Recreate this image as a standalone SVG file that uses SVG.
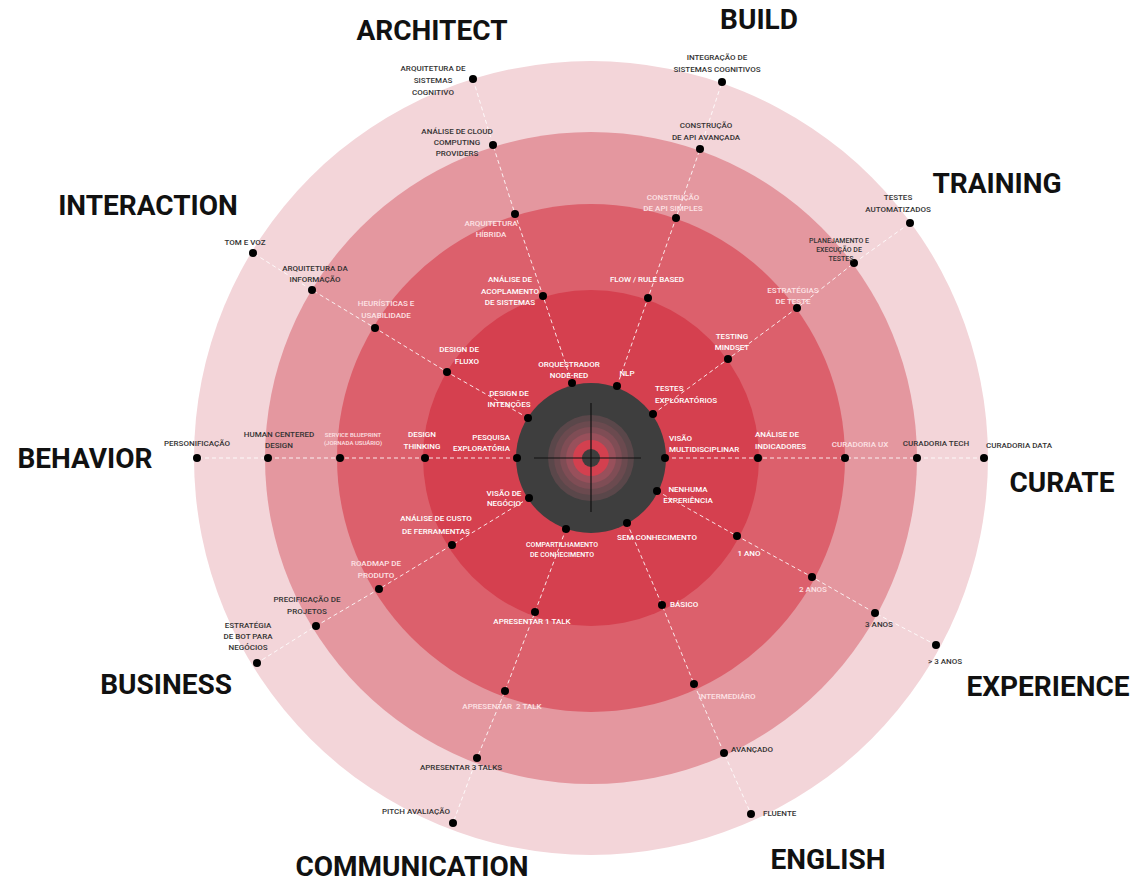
<svg xmlns="http://www.w3.org/2000/svg" width="1134" height="882" viewBox="0 0 1134 882">
<style>
text{font-family:Roboto,"Liberation Sans",sans-serif}
.h{font-size:28px;font-weight:700;fill:#111;text-anchor:middle}
.l{font-size:8px;font-weight:500;text-anchor:middle}
.st{text-anchor:start}
.en{text-anchor:end}
.d{fill:#333}
.w{fill:#fff}
.p{fill:#fde2e5}
.s7{font-size:7px}
.s6{font-size:6px}
.dot{fill:#000}
.sp{stroke:#fff;stroke-width:1;stroke-dasharray:4 3;fill:none;opacity:.85}
</style>
<rect width="1134" height="882" fill="#fff"/>
<g id="rings">
<circle cx="591" cy="458" r="397" fill="#f3d5d9"/>
<circle cx="591" cy="458" r="326" fill="#e4979f"/>
<circle cx="591" cy="458" r="254" fill="#dc606c"/>
<circle cx="591" cy="458" r="168" fill="#d5404f"/>
</g>
<g id="connectors">
<polyline class="sp" points="572,383 543,296 515,214 493,145 473,79"/>
<polyline class="sp" points="617,386 648,298 676,218 700,149 722,82"/>
<polyline class="sp" points="653,414 728,359 797,308 854,263 910,223"/>
<polyline class="sp" points="665,458 758,458 845,458 917,458 984,458"/>
<polyline class="sp" points="657,491 737,536 812,577 875,613 936,645"/>
<polyline class="sp" points="627,523 662,605 694,684 724,753 751,814"/>
<polyline class="sp" points="566,529 535,612 505,691 477,758 453,823"/>
<polyline class="sp" points="529,498 452,545 379,589 316,626 257,663"/>
<polyline class="sp" points="517,458 425,458 340,458 268,458 197,458"/>
<polyline class="sp" points="528,418 447,372 375,328 312,290 253,253"/>
</g>
<g id="core">
<circle cx="591" cy="458" r="75" fill="#3e3e3e"/>
<circle cx="591" cy="458" r="43" fill="#5a474a"/>
<circle cx="591" cy="458" r="37" fill="#6b4a4f"/>
<circle cx="591" cy="458" r="31" fill="#7f4d55"/>
<circle cx="591" cy="458" r="25" fill="#98505b"/>
<circle cx="591" cy="458" r="18" fill="#d3404f"/>
<circle cx="591" cy="458" r="9" fill="#3e3e3e"/>
<line x1="534" y1="458" x2="641" y2="458" stroke="#111" stroke-width="1.2"/>
<line x1="591" y1="403" x2="591" y2="512" stroke="#111" stroke-width="1.2"/>
</g>
<g id="headers">
<text id="h-architect" class="h" x="432" y="40">ARCHITECT</text>
<text id="h-build" class="h" x="759" y="29">BUILD</text>
<text id="h-training" class="h" x="997" y="193">TRAINING</text>
<text id="h-interaction" class="h" x="148" y="215">INTERACTION</text>
<text id="h-behavior" class="h" x="85" y="468">BEHAVIOR</text>
<text id="h-curate" class="h" x="1062" y="492">CURATE</text>
<text id="h-business" class="h" x="166" y="694">BUSINESS</text>
<text id="h-experience" class="h" x="1048" y="696">EXPERIENCE</text>
<text id="h-communication" class="h" x="412" y="876">COMMUNICATION</text>
<text id="h-english" class="h" x="828" y="869">ENGLISH</text>
</g>
<!-- ARCHITECT -->
<g id="architect-1"><circle class="dot" cx="572" cy="383" r="4"/><text class="l w" x="569" y="367">ORQUESTRADOR</text><text class="l w" x="569" y="378">NODE-RED</text></g>
<g id="architect-2"><circle class="dot" cx="543" cy="296" r="4"/><text class="l w" x="510" y="282">ANÁLISE DE</text><text class="l w" x="510" y="294">ACOPLAMENTO</text><text class="l w" x="510" y="305">DE SISTEMAS</text></g>
<g id="architect-3"><circle class="dot" cx="515" cy="214" r="4"/><text class="l p" x="491" y="226">ARQUITETURA</text><text class="l p" x="491" y="237">HÍBRIDA</text></g>
<g id="architect-4"><circle class="dot" cx="493" cy="145" r="4"/><text class="l d" x="457" y="134">ANÁLISE DE CLOUD</text><text class="l d" x="457" y="145">COMPUTING</text><text class="l d" x="457" y="156">PROVIDERS</text></g>
<g id="architect-5"><circle class="dot" cx="473" cy="79" r="4"/><text class="l d" x="433" y="71">ARQUITETURA DE</text><text class="l d" x="433" y="83">SISTEMAS</text><text class="l d" x="433" y="95">COGNITIVO</text></g>
<!-- BUILD -->
<g id="build-1"><circle class="dot" cx="617" cy="386" r="4"/><text class="l w" x="627" y="376">NLP</text></g>
<g id="build-2"><circle class="dot" cx="648" cy="298" r="4"/><text class="l w" x="647" y="282">FLOW / RULE BASED</text></g>
<g id="build-3"><circle class="dot" cx="676" cy="218" r="4"/><text class="l p" x="673" y="200">CONSTRUÇÃO</text><text class="l p" x="673" y="211">DE API SIMPLES</text></g>
<g id="build-4"><circle class="dot" cx="700" cy="149" r="4"/><text class="l d" x="706" y="128">CONSTRUÇÃO</text><text class="l d" x="706" y="140">DE API AVANÇADA</text></g>
<g id="build-5"><circle class="dot" cx="722" cy="82" r="4"/><text class="l d" x="717" y="60">INTEGRAÇÃO DE</text><text class="l d" x="717" y="72">SISTEMAS COGNITIVOS</text></g>
<!-- TRAINING -->
<g id="training-1"><circle class="dot" cx="653" cy="414" r="4"/><text class="l w st" x="655" y="391">TESTES</text><text class="l w st" x="655" y="403">EXPLORATÓRIOS</text></g>
<g id="training-2"><circle class="dot" cx="728" cy="359" r="4"/><text class="l w" x="732" y="339">TESTING</text><text class="l w" x="732" y="350">MINDSET</text></g>
<g id="training-3"><circle class="dot" cx="797" cy="308" r="4"/><text class="l p" x="793" y="293">ESTRATÉGIAS</text><text class="l p" x="793" y="304">DE TESTE</text></g>
<g id="training-4"><circle class="dot" cx="854" cy="263" r="4"/><text class="l d s7" x="839" y="243">PLANEJAMENTO E</text><text class="l d s7" x="839" y="252">EXECUÇÃO DE</text><text class="l d s7" x="841" y="261">TESTES</text></g>
<g id="training-5"><circle class="dot" cx="910" cy="223" r="4"/><text class="l d" x="898" y="200">TESTES</text><text class="l d" x="898" y="212">AUTOMATIZADOS</text></g>
<!-- CURATE -->
<g id="curate-1"><circle class="dot" cx="665" cy="458" r="4"/><text class="l w st" x="669" y="441">VISÃO</text><text class="l w st" x="669" y="452">MULTIDISCIPLINAR</text></g>
<g id="curate-2"><circle class="dot" cx="758" cy="458" r="4"/><text class="l w st" x="755" y="437">ANÁLISE DE</text><text class="l w st" x="755" y="449">INDICADORES</text></g>
<g id="curate-3"><circle class="dot" cx="845" cy="458" r="4"/><text class="l p" x="860" y="447">CURADORIA UX</text></g>
<g id="curate-4"><circle class="dot" cx="917" cy="458" r="4"/><text class="l d" x="936" y="446">CURADORIA TECH</text></g>
<g id="curate-5"><circle class="dot" cx="984" cy="458" r="4"/><text class="l d" x="1019" y="448">CURADORIA DATA</text></g>
<!-- EXPERIENCE -->
<g id="experience-1"><circle class="dot" cx="657" cy="491" r="4"/><text class="l w" x="688" y="492">NENHUMA</text><text class="l w" x="688" y="503">EXPERIÊNCIA</text></g>
<g id="experience-2"><circle class="dot" cx="737" cy="536" r="4"/><text class="l w" x="749" y="556">1 ANO</text></g>
<g id="experience-3"><circle class="dot" cx="812" cy="577" r="4"/><text class="l p" x="813" y="592">2 ANOS</text></g>
<g id="experience-4"><circle class="dot" cx="875" cy="613" r="4"/><text class="l d" x="879" y="627">3 ANOS</text></g>
<g id="experience-5"><circle class="dot" cx="936" cy="645" r="4"/><text class="l d" x="945" y="664">&gt; 3 ANOS</text></g>
<!-- ENGLISH -->
<g id="english-1"><circle class="dot" cx="627" cy="523" r="4"/><text class="l w" x="657" y="540">SEM CONHECIMENTO</text></g>
<g id="english-2"><circle class="dot" cx="662" cy="605" r="4"/><text class="l w st" x="670" y="607">BÁSICO</text></g>
<g id="english-3"><circle class="dot" cx="694" cy="684" r="4"/><text class="l p" x="727" y="699">INTERMEDIÁRO</text></g>
<g id="english-4"><circle class="dot" cx="724" cy="753" r="4"/><text class="l d st" x="731" y="752">AVANÇADO</text></g>
<g id="english-5"><circle class="dot" cx="751" cy="814" r="4"/><text class="l d st" x="763" y="816">FLUENTE</text></g>
<!-- COMMUNICATION -->
<g id="communication-1"><circle class="dot" cx="566" cy="529" r="4"/><text class="l w s7" x="562" y="547">COMPARTILHAMENTO</text><text class="l w s7" x="562" y="557">DE CONHECIMENTO</text></g>
<g id="communication-2"><circle class="dot" cx="535" cy="612" r="4"/><text class="l w" x="532" y="624">APRESENTAR 1 TALK</text></g>
<g id="communication-3"><circle class="dot" cx="505" cy="691" r="4"/><text class="l p" x="502" y="709">APRESENTAR&#160; 2 TALK</text></g>
<g id="communication-4"><circle class="dot" cx="477" cy="758" r="4"/><text class="l d" x="461" y="770">APRESENTAR 3 TALKS</text></g>
<g id="communication-5"><circle class="dot" cx="453" cy="823" r="4"/><text class="l d" x="416" y="814">PITCH AVALIAÇÃO</text></g>
<!-- BUSINESS -->
<g id="business-1"><circle class="dot" cx="529" cy="498" r="4"/><text class="l w" x="504" y="496">VISÃO DE</text><text class="l w" x="504" y="506">NEGÓCIO</text></g>
<g id="business-2"><circle class="dot" cx="452" cy="545" r="4"/><text class="l w" x="436" y="521">ANÁLISE DE CUSTO</text><text class="l w" x="436" y="534">DE FERRAMENTAS</text></g>
<g id="business-3"><circle class="dot" cx="379" cy="589" r="4"/><text class="l p" x="376" y="566">ROADMAP DE</text><text class="l p" x="376" y="578">PRODUTO</text></g>
<g id="business-4"><circle class="dot" cx="316" cy="626" r="4"/><text class="l d" x="307" y="602">PRECIFICAÇÃO DE</text><text class="l d" x="307" y="614">PROJETOS</text></g>
<g id="business-5"><circle class="dot" cx="257" cy="663" r="4"/><text class="l d" x="248" y="628">ESTRATÉGIA</text><text class="l d" x="248" y="639">DE BOT PARA</text><text class="l d" x="248" y="650">NEGÓCIOS</text></g>
<!-- BEHAVIOR -->
<g id="behavior-1"><circle class="dot" cx="517" cy="458" r="4"/><text class="l w en" x="510" y="440">PESQUISA</text><text class="l w en" x="510" y="451">EXPLORATÓRIA</text></g>
<g id="behavior-2"><circle class="dot" cx="425" cy="458" r="4"/><text class="l w" x="422" y="437">DESIGN</text><text class="l w" x="422" y="449">THINKING</text></g>
<g id="behavior-3"><circle class="dot" cx="340" cy="458" r="4"/><text class="l p s6" x="353" y="437">SERVICE BLUEPRINT</text><text class="l p s6" x="353" y="445">(JORNADA USUÁRIO)</text></g>
<g id="behavior-4"><circle class="dot" cx="268" cy="458" r="4"/><text class="l d" x="279" y="437">HUMAN CENTERED</text><text class="l d" x="279" y="448">DESIGN</text></g>
<g id="behavior-5"><circle class="dot" cx="197" cy="458" r="4"/><text class="l d" x="197" y="446">PERSONIFICAÇÃO</text></g>
<!-- INTERACTION -->
<g id="interaction-1"><circle class="dot" cx="528" cy="418" r="4"/><text class="l w" x="509" y="396">DESIGN DE</text><text class="l w" x="509" y="407">INTENÇÕES</text></g>
<g id="interaction-2"><circle class="dot" cx="447" cy="372" r="4"/><text class="l w en" x="479" y="352">DESIGN DE</text><text class="l w en" x="479" y="364">FLUXO</text></g>
<g id="interaction-3"><circle class="dot" cx="375" cy="328" r="4"/><text class="l p" x="386" y="306">HEURÍSTICAS E</text><text class="l p" x="386" y="318">USABILIDADE</text></g>
<g id="interaction-4"><circle class="dot" cx="312" cy="290" r="4"/><text class="l d" x="315" y="271">ARQUITETURA DA</text><text class="l d" x="315" y="282">INFORMAÇÃO</text></g>
<g id="interaction-5"><circle class="dot" cx="253" cy="253" r="4"/><text class="l d" x="245" y="245">TOM E VOZ</text></g>
</svg>
